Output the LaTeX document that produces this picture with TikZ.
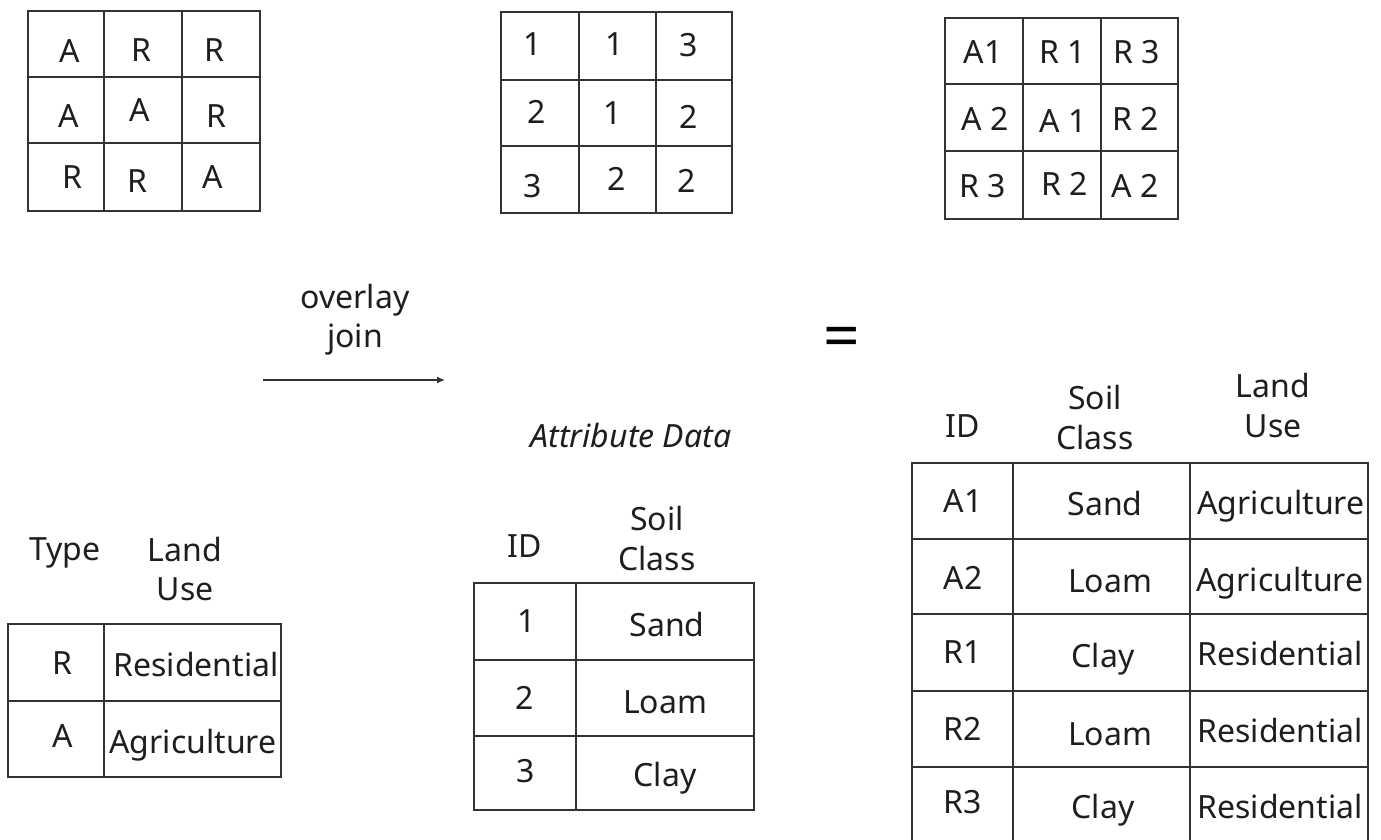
\documentclass[tikz,border=0pt]{standalone}
\usepackage{fontspec}
\setmainfont{Noto Sans}
\usetikzlibrary{arrows.meta}
\definecolor{ink}{HTML}{1E1E1E}
\definecolor{rule}{HTML}{333333}
\tikzset{
  txt/.style={inner sep=0pt, anchor=base, text=ink, font=\fontsize{32}{40}\selectfont},
  gridline/.style={draw=rule, line width=1.6pt, line cap=rect},
}
\begin{document}
\begin{tikzpicture}[x=1pt,y=-1pt]
\useasboundingbox[fill=white] (0,0) rectangle (1381,839);

% ---------- grid 1 (land use raster)
\draw[gridline] (28,11) rectangle (260,211);
\draw[gridline] (104,11) -- (104,211) (182,11) -- (182,211)
  (28,77) -- (260,77) (28,143) -- (260,143);
\node[txt] (g1a) at (70,62) {A};
\node[txt] (g1b) at (141,61) {R};
\node[txt] (g1c) at (214,61) {R};
\node[txt] (g1d) at (69,127) {A};
\node[txt] (g1e) at (140,121) {A};
\node[txt] (g1f) at (216,127) {R};
\node[txt] (g1g) at (72,188) {R};
\node[txt] (g1h) at (137,192) {R};
\node[txt] (g1i) at (213,188) {A};

% ---------- grid 2 (soil raster)
\draw[gridline] (501,12) rectangle (732,213);
\draw[gridline] (579,12) -- (579,213) (656,12) -- (656,213)
  (501,80) -- (732,80) (501,146) -- (732,146);
\node[txt] (g2a) at (533,55) {1};
\node[txt] (g2b) at (615,55) {1};
\node[txt] (g2c) at (689,56) {3};
\node[txt] (g2d) at (537,123) {2};
\node[txt] (g2e) at (613,124) {1};
\node[txt] (g2f) at (689,128) {2};
\node[txt] (g2g) at (533,197) {3};
\node[txt] (g2h) at (617,190) {2};
\node[txt] (g2i) at (687,192) {2};

% ---------- grid 3 (result raster)
\draw[gridline] (945,18) rectangle (1178,219);
\draw[gridline] (1023,18) -- (1023,219) (1101,18) -- (1101,219)
  (945,84) -- (1178,84) (945,151) -- (1178,151);
\node[txt] (g3a) at (983,63) {A1};
\node[txt] (g3b) at (1063,63) {R 1};
\node[txt] (g3c) at (1137,63) {R 3};
\node[txt] (g3d) at (985,130) {A 2};
\node[txt] (g3e) at (1063,132) {A 1};
\node[txt] (g3f) at (1136,130) {R 2};
\node[txt] (g3g) at (983,197) {R 3};
\node[txt] (g3h) at (1065,195) {R 2};
\node[txt] (g3i) at (1135,197) {A 2};

% ---------- overlay join arrow and equals sign
\node[txt] (ov) at (355,308) {overlay};
\node[txt] (jn) at (355,347) {join};
\coordinate (arrA) at (263,380);
\coordinate (arrB) at (445,380);
\draw[draw=rule, line width=1.4pt, -{Latex[length=8pt,width=7pt]}] (arrA) -- (arrB);
\node[inner sep=0pt, text=black, font=\fontsize{64}{64}\selectfont\bfseries] (eq) at (842,343) {=};

% ---------- left table: land use attribute table
\node[txt] (ltype) at (65,560) {Type};
\node[txt] (lland) at (185,561) {Land};
\node[txt] (luse) at (185,600) {Use};
\draw[gridline] (8,624) rectangle (281,777);
\draw[gridline] (104,624) -- (104,777) (8,701) -- (281,701);
\node[txt] (lr) at (62,674) {R};
\node[txt] (lres) at (196,676) {Residential};
\node[txt] (la) at (63,747) {A};
\node[txt] (lagr) at (193,753) {Agriculture};

% ---------- middle table: soil attribute data
\node[txt, font=\fontsize{32}{40}\selectfont\itshape] (attr) at (631,447) {Attribute Data};
\node[txt] (mid) at (525,557) {ID};
\node[txt] (msoil) at (657,530) {Soil};
\node[txt] (mclass) at (657,570) {Class};
\draw[gridline] (474,583) rectangle (754,810);
\draw[gridline] (576,583) -- (576,810) (474,660) -- (754,660) (474,736) -- (754,736);
\node[txt] (m1) at (527,632) {1};
\node[txt] (msand) at (667,636) {Sand};
\node[txt] (m2) at (525,709) {2};
\node[txt] (mloam) at (665,713) {Loam};
\node[txt] (m3) at (526,782) {3};
\node[txt] (mclay) at (665,786) {Clay};

% ---------- right table: result
\node[txt] (rid) at (963,437) {ID};
\node[txt] (rsoil) at (1095,409) {Soil};
\node[txt] (rclass) at (1095,449) {Class};
\node[txt] (rland) at (1273,397) {Land};
\node[txt] (ruse) at (1273,437) {Use};
\draw[gridline] (912,839) -- (912,463) -- (1368,463) -- (1368,839);
\draw[gridline] (1013,463) -- (1013,839) (1190,463) -- (1190,839)
  (912,539) -- (1368,539) (912,614) -- (1368,614)
  (912,691) -- (1368,691) (912,767) -- (1368,767);
\node[txt] (ra1) at (963,512) {A1};
\node[txt] (ra1s) at (1105,515) {Sand};
\node[txt] (ra1l) at (1281,514) {Agriculture};
\node[txt] (ra2) at (963,589) {A2};
\node[txt] (ra2s) at (1110,592) {Loam};
\node[txt] (ra2l) at (1280,591) {Agriculture};
\node[txt] (rr1) at (963,663) {R1};
\node[txt] (rr1s) at (1103,667) {Clay};
\node[txt] (rr1l) at (1280,665) {Residential};
\node[txt] (rr2) at (963,740) {R2};
\node[txt] (rr2s) at (1110,745) {Loam};
\node[txt] (rr2l) at (1280,742) {Residential};
\node[txt] (rr3) at (963,813) {R3};
\node[txt] (rr3s) at (1103,818) {Clay};
\node[txt] (rr3l) at (1280,818) {Residential};
\end{tikzpicture}
\end{document}
